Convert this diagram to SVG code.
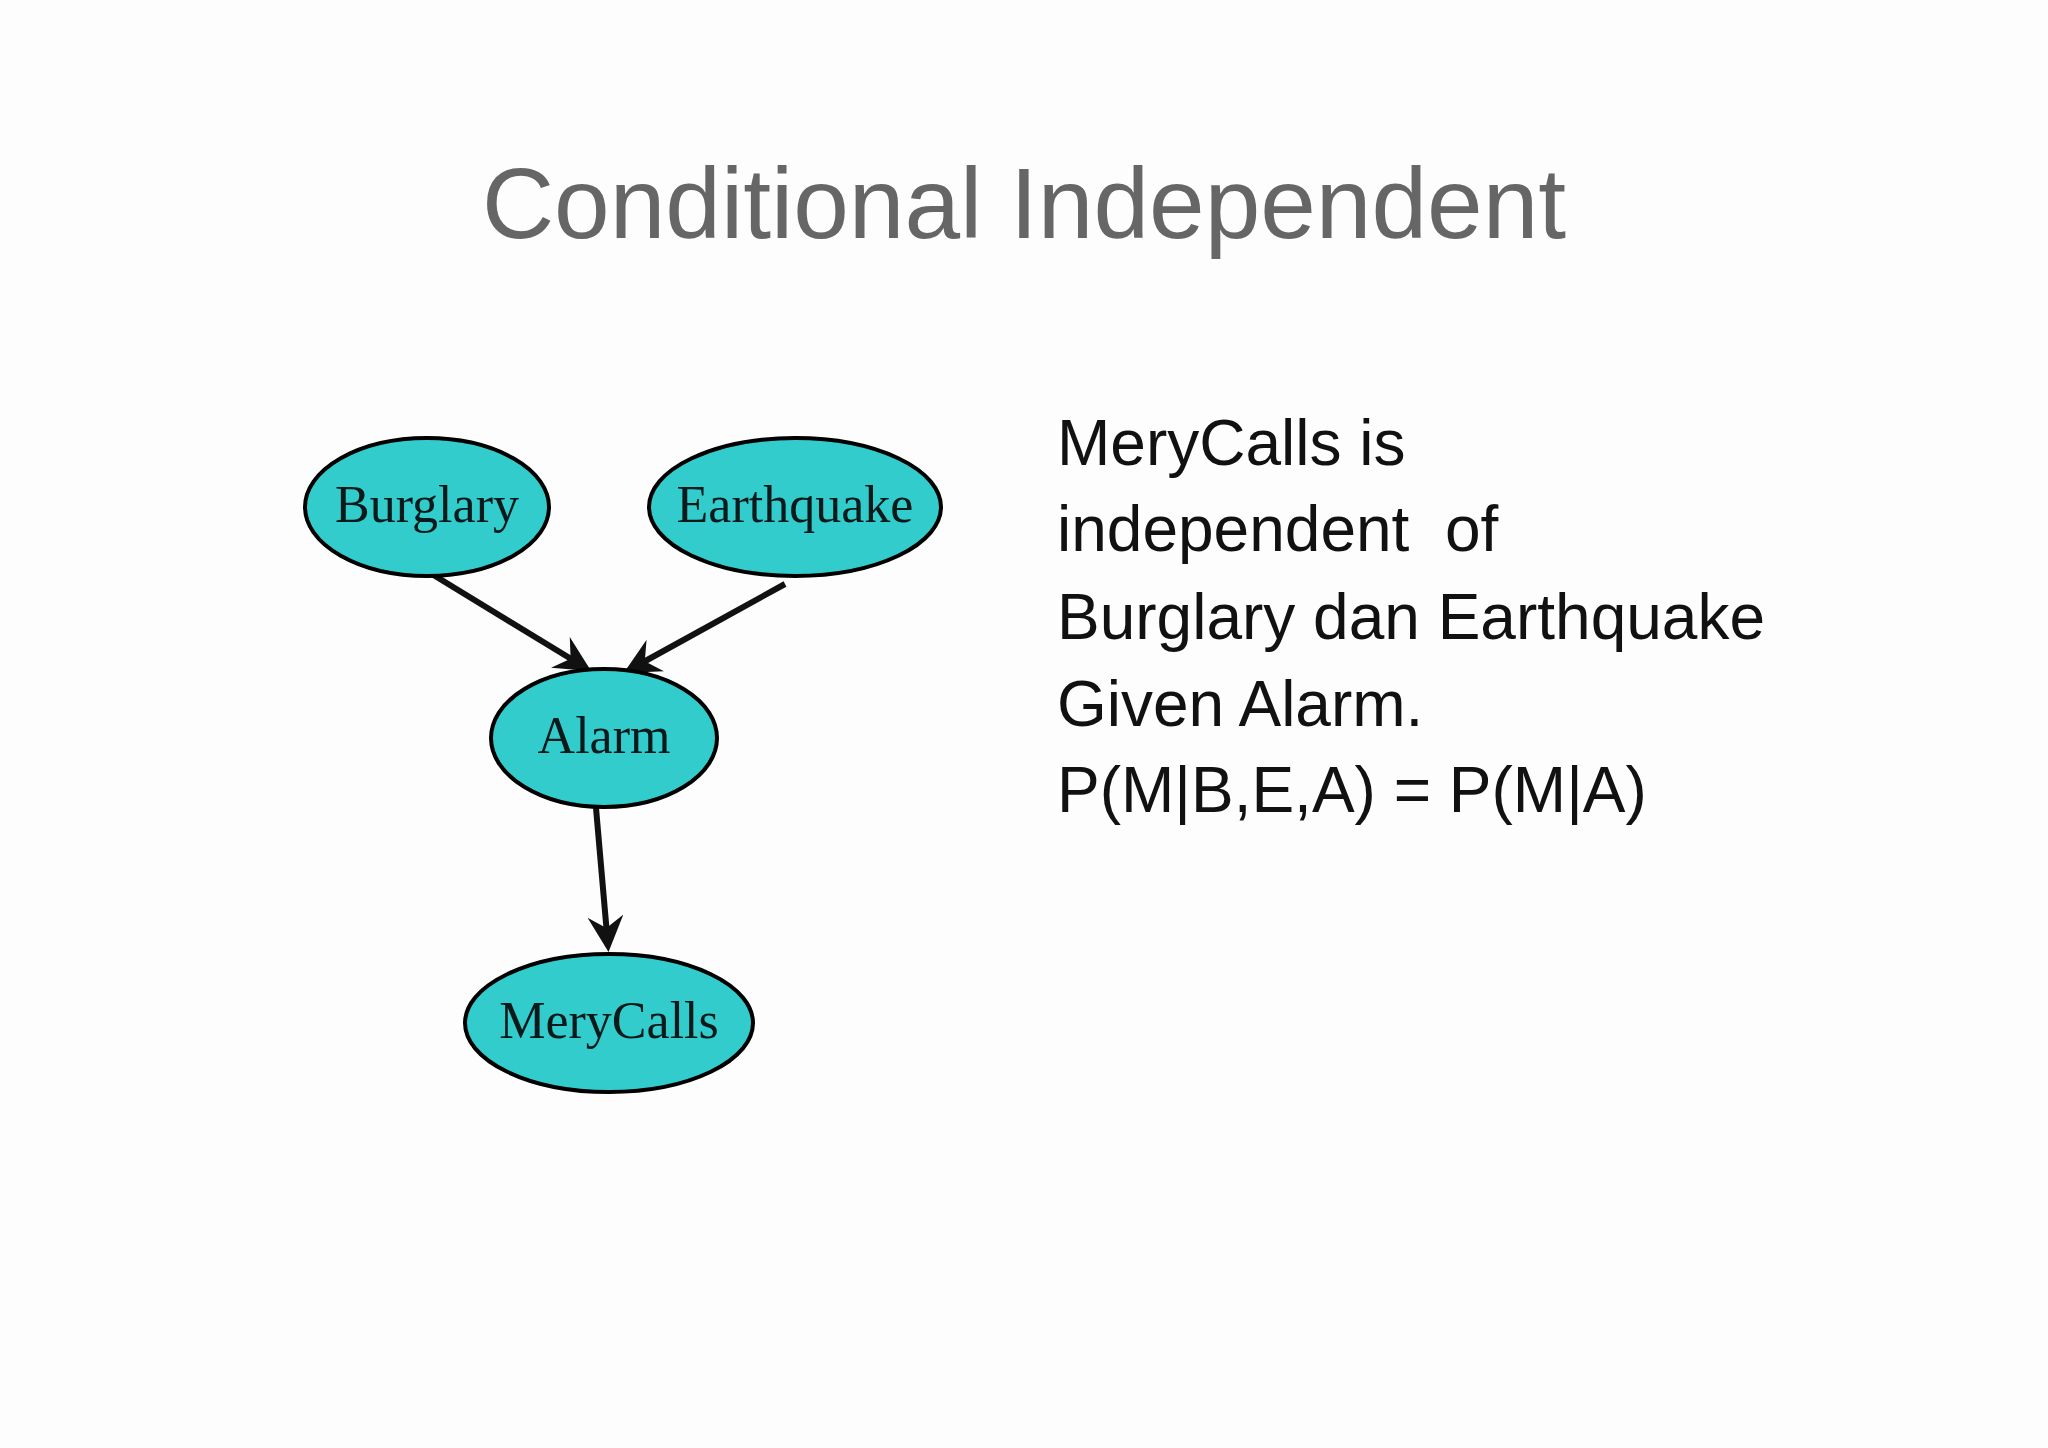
<svg xmlns="http://www.w3.org/2000/svg" width="2048" height="1448" viewBox="0 0 2048 1448">
<style>
.n{fill:#33cccc;stroke:#000;stroke-width:4}
.l{font-family:"Liberation Serif",serif;font-size:52px;fill:#0a1a1a;text-anchor:middle}
.b{font-family:"Liberation Sans",Arial,sans-serif;font-size:64px;fill:#111}
.e{stroke:#111;stroke-width:6;fill:none;marker-end:url(#a)}
</style>
<defs><marker id="a" markerWidth="6" markerHeight="6" refX="5" refY="3" orient="auto" markerUnits="strokeWidth"><path d="M0,0 L6,3 L0,6 L2,3 z" fill="#111"/></marker></defs>
<rect width="2048" height="1448" fill="#fdfdfd"/>
<text x="1024" y="238" font-family="Liberation Sans,Arial,sans-serif" font-size="100" fill="#666" text-anchor="middle">Conditional Independent</text>
<g id="edges">
<line class="e" x1="422" y1="568" x2="586" y2="668"/>
<line class="e" x1="785" y1="584" x2="629" y2="670"/>
<line class="e" x1="596" y1="808" x2="608" y2="946"/>
</g>
<g id="burglary"><ellipse class="n" cx="427" cy="507" rx="122" ry="69"/><text class="l" x="427" y="522">Burglary</text></g>
<g id="earthquake"><ellipse class="n" cx="795" cy="507" rx="146" ry="69"/><text class="l" x="795" y="522">Earthquake</text></g>
<g id="alarm"><ellipse class="n" cx="604" cy="738" rx="113" ry="69"/><text class="l" x="604" y="753">Alarm</text></g>
<g id="merycalls"><ellipse class="n" cx="609" cy="1023" rx="144" ry="69"/><text class="l" x="609" y="1038">MeryCalls</text></g>
<g id="text">
<text class="b" x="1057" y="465">MeryCalls is</text>
<text class="b" x="1057" y="551" xml:space="preserve">independent  of</text>
<text class="b" x="1057" y="639">Burglary dan Earthquake</text>
<text class="b" x="1057" y="726">Given Alarm.</text>
<text class="b" x="1057" y="812">P(M|B,E,A) = P(M|A)</text>
</g>
</svg>
